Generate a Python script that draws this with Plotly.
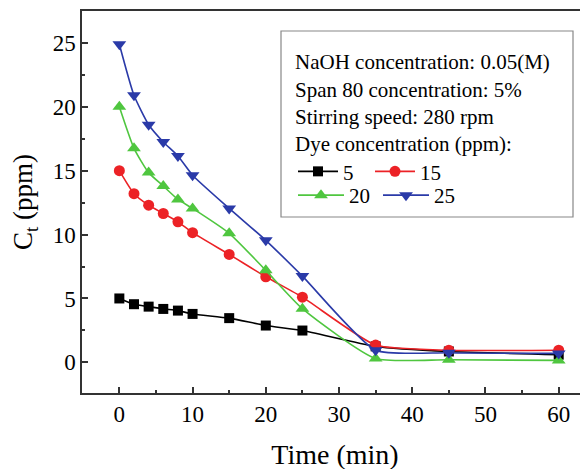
import plotly.graph_objects as go

time_min = [0, 2, 4, 6, 8, 10, 15, 20, 25, 35, 45, 60]
c_5 = [5.0, 4.55, 4.36, 4.18, 4.05, 3.79, 3.46, 2.88, 2.49, 1.25, 0.85, 0.6]
c_15 = [15.0, 13.2, 12.3, 11.65, 11.0, 10.15, 8.45, 6.7, 5.1, 1.35, 0.95, 0.95]
c_20 = [20.0, 16.75, 14.85, 13.8, 12.75, 12.05, 10.1, 7.2, 4.2, 0.3, 0.2, 0.15]
c_25 = [24.9, 20.9, 18.6, 17.25, 16.15, 14.65, 12.05, 9.55, 6.75, 0.95, 0.75, 0.7]
series_names = ["5", "15", "20", "25"]
legend_title = ["NaOH concentration: 0.05(M)", "Span 80 concentration: 5%",
                "Stirring speed: 280 rpm", "Dye concentration (ppm):"]

FONT = "Liberation Serif, Times New Roman, serif"
colors = ["#000000", "#ec2226", "#4fc63f", "#2a3aa8"]
symbols = ["square", "circle", "triangle-up", "triangle-down"]
sizes = [10, 11, 12, 12]
legends = ["legend", "legend", "legend2", "legend2"]

fig = go.Figure()
for name, ys, col, sym, sz, lg in zip(series_names, [c_5, c_15, c_20, c_25], colors, symbols, sizes, legends):
    fig.add_trace(go.Scatter(
        x=time_min, y=ys, name=name, mode="lines+markers",
        line=dict(color=col, width=1.6, shape="spline", smoothing=0.55),
        marker=dict(symbol=sym, size=sz, color=col, line=dict(width=0)),
        legend=lg,
    ))

# page body has an 8px margin: work in screen pixels and convert
OFF = 8
W, H = 588, 469
L, T = 82 - OFF, 11 - OFF
B = H - (393 - OFF)
R = W - (588 - OFF)
pw, ph = W - L - R, H - T - B

def px(xs):
    return (xs - OFF - L) / pw

def py(ys):
    return (H - B - (ys - OFF)) / ph

fig.update_layout(
    width=W, height=H,
    margin=dict(l=L, r=R, t=T, b=B, autoexpand=False),
    paper_bgcolor="white", plot_bgcolor="white",
    font=dict(family=FONT, color="black", size=21),
    legend=dict(
        title=dict(text="<br>".join(legend_title), side="top",
                   font=dict(family=FONT, size=21, color="black")),
        orientation="h", x=px(293), xanchor="left", y=py(42), yanchor="top",
        bgcolor="rgba(0,0,0,0)", borderwidth=0,
        font=dict(family=FONT, size=21, color="black"),
        entrywidth=22, entrywidthmode="pixels", tracegroupgap=0, itemwidth=40,
    ),
    legend2=dict(
        orientation="h", x=px(293), xanchor="left", y=py(175), yanchor="top",
        bgcolor="rgba(0,0,0,0)", borderwidth=0,
        font=dict(family=FONT, size=21, color="black"),
        entrywidth=24, entrywidthmode="pixels", itemwidth=46,
    ),
    shapes=[dict(type="rect", xref="paper", yref="paper",
                 x0=px(281), x1=px(573), y0=py(217), y1=py(31),
                 line=dict(color="#888888", width=1.2), fillcolor="rgba(0,0,0,0)")],
    showlegend=True,
)

fig.update_xaxes(
    range=[-5.1, 64.0], tickvals=[0, 10, 20, 30, 40, 50, 60],
    ticks="inside", ticklen=6, tickwidth=1.5, tickcolor="#333333",
    minor=dict(tickvals=[5, 15, 25, 35, 45, 55], ticks="inside", ticklen=3, tickwidth=1.5, tickcolor="#333333"),
    showline=True, linecolor="#333333", linewidth=1.5, mirror=True,
    showgrid=False, zeroline=False, automargin=False,
    tickfont=dict(family=FONT, size=23, color="black"),
    title=dict(text="Time (min)", font=dict(family=FONT, size=28, color="black"), standoff=18),
)
fig.update_yaxes(
    range=[-2.4, 27.5], tickvals=[0, 5, 10, 15, 20, 25],
    ticks="inside", ticklen=6, tickwidth=1.5, tickcolor="#333333",
    minor=dict(tickvals=[2.5, 7.5, 12.5, 17.5, 22.5], ticks="inside", ticklen=3, tickwidth=1.5, tickcolor="#333333"),
    showline=True, linecolor="#333333", linewidth=1.5, mirror=False,
    showgrid=False, zeroline=False, automargin=False,
    tickfont=dict(family=FONT, size=23, color="black"),
    title=dict(text="C<sub>t</sub> (ppm)", font=dict(family=FONT, size=27, color="black"), standoff=18),
)

fig.write_html("out.html")
